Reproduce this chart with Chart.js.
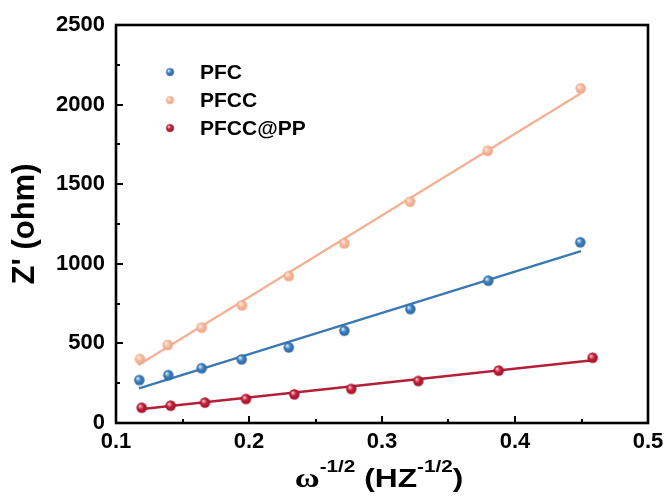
<!DOCTYPE html>
<html>
<head>
<meta charset="utf-8">
<script src="https://cdn.jsdelivr.net/npm/chart.js@4/dist/chart.umd.min.js"></script>
<style>
  html, body { margin: 0; padding: 0; background: #fff; }
  #wrap { width: 665px; height: 496px; }
</style>
</head>
<body>
<div id="wrap"><canvas id="c" width="665" height="496"></canvas></div>
<script>
// Warburg plot: Z' versus ω^-1/2 for the three samples
const seriesNames = ['PFC', 'PFCC', 'PFCC@PP'];

const xPFC    = [0.1175, 0.1393, 0.1644, 0.1945, 0.2299, 0.2717, 0.3213, 0.3799, 0.4491];
const yPFC    = [270, 301, 344, 400, 475, 580, 716, 894, 1135];

const xPFCC   = [0.1180, 0.1389, 0.1644, 0.1947, 0.2299, 0.2717, 0.3211, 0.3795, 0.4494];
const yPFCC   = [402, 490, 599, 739, 923, 1129, 1390, 1710, 2102];

const xPFCCPP = [0.1193, 0.1411, 0.1669, 0.1977, 0.2341, 0.2769, 0.3273, 0.3877, 0.4584];
const yPFCCPP = [96, 109, 128, 151, 180, 214, 264, 329, 410];

// linear fits, start and end
const fitXPFC    = [0.1173, 0.4496];
const fitYPFC    = [218, 1080];
const fitXPFCC   = [0.1168, 0.4496];
const fitYPFCC   = [364, 2071];
const fitXPFCCPP = [0.1180, 0.4602];
const fitYPFCCPP = [86, 396];

const xTicks = [0.1, 0.2, 0.3, 0.4, 0.5];
const yTicks = [0, 500, 1000, 1500, 2000, 2500];

const pair = (xs, ys) => xs.map((x, i) => ({ x: x, y: ys[i] }));

// shaded ball marker
function sphere(r, edge, mid, hi) {
  const s = Math.ceil(r * 2 + 2);
  const cv = document.createElement('canvas');
  cv.width = s; cv.height = s;
  const g = cv.getContext('2d');
  const c = s / 2;
  const grad = g.createRadialGradient(c - r * 0.35, c - r * 0.35, r * 0.1, c, c, r);
  grad.addColorStop(0, hi);
  grad.addColorStop(0.45, mid);
  grad.addColorStop(1, edge);
  g.fillStyle = grad;
  g.beginPath(); g.arc(c, c, r, 0, Math.PI * 2); g.fill();
  return cv;
}

const colBlue = { edge: '#2b66a0', mid: '#3d80bf', hi: '#d6e8f7', line: '#3a78b2' };
const colPeach = { edge: '#eda283', mid: '#f6bb9e', hi: '#fde9de', line: '#f4b193' };
const colRed = { edge: '#9c1228', mid: '#c3203a', hi: '#f7bcc6', line: '#b3203a' };

const markerBlue = sphere(5.2, colBlue.edge, colBlue.mid, colBlue.hi);
const markerPeach = sphere(5.2, colPeach.edge, colPeach.mid, colPeach.hi);
const markerRed = sphere(5.2, colRed.edge, colRed.mid, colRed.hi);

function pointSet(label, data, marker) {
  return { type: 'scatter', label: label, data: data, pointStyle: marker,
           pointRadius: 5, showLine: false, order: 1 };
}
function fitSet(label, data, color) {
  return { type: 'line', label: label, data: data, borderColor: color, borderWidth: 2.4,
           pointRadius: 0, fill: false, order: 2, tension: 0 };
}

// frame, inward ticks, legend and x-axis title
const decor = {
  id: 'decor',
  afterDraw(chart) {
    const ctx = chart.ctx;
    const a = chart.chartArea;
    const xs = chart.scales.x, ys = chart.scales.y;
    ctx.save();
    ctx.strokeStyle = '#000';
    ctx.lineWidth = 2;
    ctx.beginPath();
    for (let v = 0.1; v <= 0.5001; v += 0.05) {
      const px = Math.round(xs.getPixelForValue(v));
      const major = Math.abs(v * 10 - Math.round(v * 10)) < 1e-6;
      const len = major ? 7 : 4;
      ctx.moveTo(px, a.bottom); ctx.lineTo(px, a.bottom - len);
    }
    for (let v = 0; v <= 2500; v += 250) {
      const py = Math.round(ys.getPixelForValue(v));
      const len = v % 500 === 0 ? 7 : 4;
      ctx.moveTo(a.left, py); ctx.lineTo(a.left + len, py);
    }
    ctx.stroke();
    ctx.lineWidth = 2.6;
    ctx.strokeRect(a.left, a.top, a.right - a.left, a.bottom - a.top);

    // legend
    const markers = [markerBlue, markerPeach, markerRed];
    const rowsY = [72, 100, 128];
    ctx.fillStyle = '#000';
    ctx.font = 'bold 21px "Liberation Sans", Arial, sans-serif';
    ctx.textBaseline = 'middle';
    ctx.textAlign = 'left';
    seriesNames.forEach((name, i) => {
      const m = markers[i];
      ctx.drawImage(m, 170 - 5, rowsY[i] - 5, 10, 10);
      ctx.fillText(name, 200, rowsY[i] + 1);
    });

    // x-axis title with superscripts
    const parts = [
      { t: 'ω', f: 'bold 28px "Liberation Serif", "Times New Roman", serif', dy: 0 },
      { t: '-1/2', f: 'bold 17px "Liberation Sans", Arial, sans-serif', dy: -15 },
      { t: ' (HZ', f: 'bold 26px "Liberation Sans", Arial, sans-serif', dy: 0 },
      { t: '-1/2', f: 'bold 17px "Liberation Sans", Arial, sans-serif', dy: -15 },
      { t: ')', f: 'bold 26px "Liberation Sans", Arial, sans-serif', dy: 0 }
    ];
    const sx = 1.22;
    let w = 0;
    parts.forEach(p => { ctx.font = p.f; p.w = ctx.measureText(p.t).width; w += p.w; });
    const cx = (a.left + a.right) / 2 - 3;
    const base = 487;
    ctx.translate(cx - (w * sx) / 2, base);
    ctx.scale(sx, 1);
    ctx.textBaseline = 'alphabetic';
    let x = 0;
    parts.forEach(p => { ctx.font = p.f; ctx.fillText(p.t, x, p.dy); x += p.w; });
    ctx.restore();
  }
};

const tickFont = { family: '"Liberation Sans", Arial, sans-serif', size: 22, weight: 'bold' };

new Chart(document.getElementById('c'), {
  data: {
    datasets: [
      fitSet('PFC fit', pair(fitXPFC, fitYPFC), colBlue.line),
      fitSet('PFCC fit', pair(fitXPFCC, fitYPFCC), colPeach.line),
      fitSet('PFCC@PP fit', pair(fitXPFCCPP, fitYPFCCPP), colRed.line),
      pointSet(seriesNames[0], pair(xPFC, yPFC), markerBlue),
      pointSet(seriesNames[1], pair(xPFCC, yPFCC), markerPeach),
      pointSet(seriesNames[2], pair(xPFCCPP, yPFCCPP), markerRed)
    ]
  },
  options: {
    responsive: false,
    animation: false,
    devicePixelRatio: 1,
    layout: { padding: { top: 25, right: 17, left: 0, bottom: 0 } },
    plugins: { legend: { display: false }, tooltip: { enabled: false } },
    scales: {
      x: {
        type: 'linear', position: 'bottom',
        min: xTicks[0], max: xTicks[xTicks.length - 1],
        afterBuildTicks: s => { s.ticks = xTicks.map(v => ({ value: v })); },
        ticks: { callback: v => v.toFixed(1), font: tickFont, color: '#000', padding: 6, maxRotation: 0 },
        grid: { display: false, drawTicks: false },
        border: { display: false },
        afterFit: s => { s.height = 73; s.paddingLeft = 0; s.paddingRight = 0; }
      },
      y: {
        type: 'linear', position: 'left',
        min: yTicks[0], max: yTicks[yTicks.length - 1],
        afterBuildTicks: s => { s.ticks = yTicks.map(v => ({ value: v })); },
        ticks: { callback: v => String(v), font: tickFont, color: '#000', padding: 11 },
        grid: { display: false, drawTicks: false },
        border: { display: false },
        title: { display: true, text: "Z' (ohm)", color: '#000',
                 font: { family: '"Liberation Sans", Arial, sans-serif', size: 31, weight: 'bold' },
                 padding: { top: 7, bottom: 0 } },
        afterFit: s => { s.width = 116; s.paddingTop = 0; s.paddingBottom = 0; }
      }
    }
  },
  plugins: [decor]
});
</script>
</body>
</html>
